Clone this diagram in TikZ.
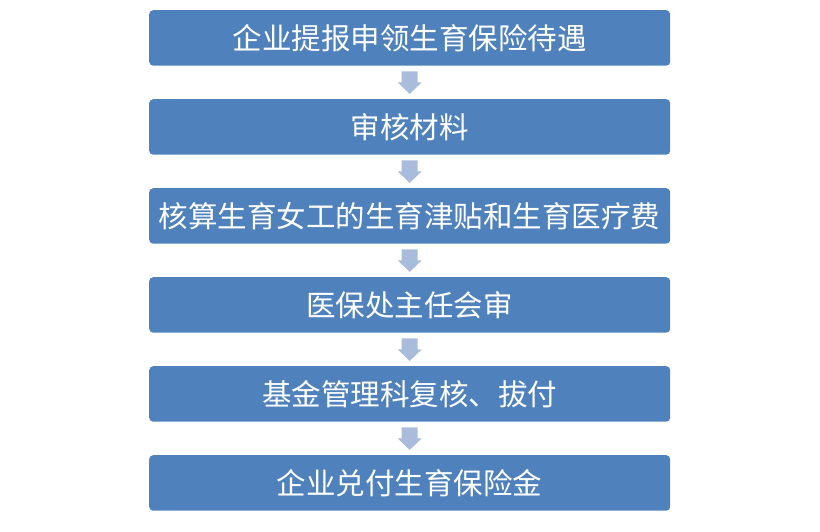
\documentclass[tikz,border=0pt]{standalone}
\usepackage{fontspec}
\newfontfamily\cjk{Noto Sans CJK SC}
\definecolor{boxblue}{HTML}{4F81BD}
\definecolor{arrowblue}{HTML}{A9BCDB}
\tikzset{
  stepbox/.style={fill=boxblue, draw=none, rounded corners=4pt, minimum width=521pt, minimum height=55.5pt, inner sep=0pt, text=white, font=\cjk\fontsize{29.5}{29.5}\selectfont, anchor=north west},
  flowarrow/.style={fill=arrowblue, draw=none}
}
\begin{document}
\begin{tikzpicture}[x=1pt,y=-1pt]
\useasboundingbox (0,0) rectangle (820,531);
\node[stepbox] (b1) at (149,10) {企业提报申领生育保险待遇};
\node[stepbox] (b2) at (149,99) {审核材料};
\node[stepbox] (b3) at (149,188) {核算生育女工的生育津贴和生育医疗费};
\node[stepbox] (b4) at (149,277) {医保处主任会审};
\node[stepbox] (b5) at (149,366) {基金管理科复核、拔付};
\node[stepbox] (b6) at (149,455) {企业兑付生育保险金};
\foreach \a/\b in {b1/b2,b2/b3,b3/b4,b4/b5,b5/b6}{
  \path (\a.south) ++(0,5.5) coordinate (t);
  \fill[flowarrow] (t) ++(-8,0) -- ++(16,0) -- ++(0,11) -- ++(4,0) -- ++(-12,11.5) -- ++(-12,-11.5) -- ++(4,0) -- cycle;
}
\end{tikzpicture}
\end{document}
